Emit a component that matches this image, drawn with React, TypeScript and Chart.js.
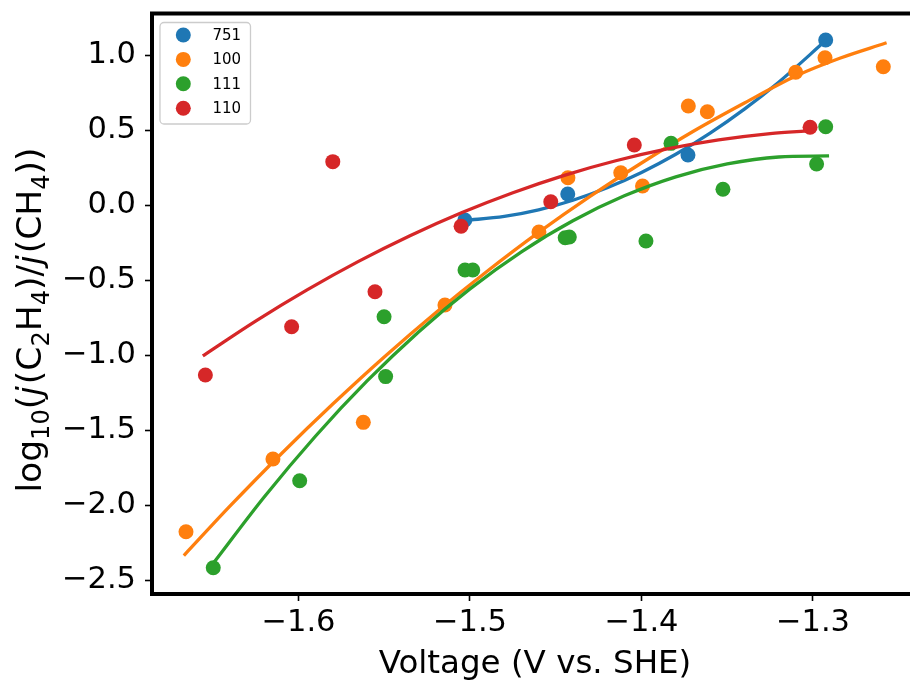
import React, { useEffect, useRef } from 'react';
import { Chart, registerables } from 'chart.js';

Chart.register(...registerables);

// ---- Data ----
const SERIES_LABELS = ['751', '100', '111', '110'];
const SERIES_COLORS = ['#1f77b4', '#ff7f0e', '#2ca02c', '#d62728'];

const X_751 = [-1.503, -1.443, -1.3729, -1.2926];
const Y_751 = [-0.1, 0.073, 0.333, 1.1];

const X_100 = [-1.6656, -1.6149, -1.5622, -1.5146, -1.4598, -1.4429, -1.4121, -1.3994, -1.3727, -1.3616, -1.3101, -1.293, -1.259];
const Y_100 = [-2.178, -1.693, -1.449, -0.667, -0.18, 0.182, 0.215, 0.127, 0.66, 0.622, 0.885, 0.982, 0.922];

const X_111 = [-1.6497, -1.5993, -1.5501, -1.5492, -1.5029, -1.4984, -1.4445, -1.4421, -1.3974, -1.3828, -1.3525, -1.2979, -1.2926];
const Y_111 = [-2.418, -1.838, -0.745, -1.144, -0.433, -0.433, -0.218, -0.213, -0.24, 0.411, 0.105, 0.273, 0.522];

const X_110 = [-1.6543, -1.604, -1.58, -1.5554, -1.5052, -1.4529, -1.4042, -1.3017];
const Y_110 = [-1.133, -0.812, 0.289, -0.578, -0.142, 0.022, 0.4, 0.518];

// fitted curves
const FIT_751_X = [-1.503, -1.48, -1.46, -1.44, -1.42, -1.4, -1.38, -1.36, -1.34, -1.32, -1.2926];
const FIT_751_Y = [-0.103, -0.076, -0.032, 0.032, 0.115, 0.217, 0.338, 0.479, 0.639, 0.819, 1.096];

const FIT_100_X = [-1.6662, -1.64, -1.61, -1.58, -1.55, -1.52, -1.49, -1.46, -1.43, -1.4, -1.37, -1.34, -1.31, -1.284, -1.258];
const FIT_100_Y = [-2.329, -2.008, -1.658, -1.327, -1.013, -0.718, -0.442, -0.183, 0.057, 0.28, 0.49, 0.68, 0.86, 0.98, 1.078];

const FIT_111_X = [-1.6497, -1.62, -1.59, -1.56, -1.53, -1.5, -1.47, -1.44, -1.41, -1.38, -1.35, -1.32, -1.2916];
const FIT_111_Y = [-2.389, -1.947, -1.54, -1.173, -0.846, -0.559, -0.312, -0.105, 0.061, 0.188, 0.274, 0.32, 0.327];

const FIT_110_X = [-1.655, -1.625, -1.595, -1.565, -1.535, -1.505, -1.475, -1.445, -1.415, -1.385, -1.355, -1.325, -1.3017];
const FIT_110_Y = [-1.0, -0.774, -0.566, -0.376, -0.205, -0.052, 0.082, 0.198, 0.295, 0.374, 0.434, 0.476, 0.496];

const X_TICKS = [-1.6, -1.5, -1.4, -1.3];
const Y_TICKS = [-2.5, -2.0, -1.5, -1.0, -0.5, 0.0, 0.5, 1.0];

const X_MIN = -1.68542;
const X_MAX = -1.24344;
const Y_MIN = -2.5933;
const Y_MAX = 1.2767;

const X_TITLE = 'Voltage (V vs. SHE)';

const zip = (xs: number[], ys: number[]) => xs.map((x, i) => ({ x, y: ys[i] }));
const fmt = (v: number) => v.toFixed(1).replace('-', '\u2212');

const FONT = "'DejaVu Sans', sans-serif";

const decorPlugin = {
  id: 'decor',
  afterDraw(chart: any) {
    const ctx = chart.ctx as CanvasRenderingContext2D;
    const a = chart.chartArea;
    ctx.save();
    // top spine
    ctx.strokeStyle = '#000';
    ctx.lineWidth = 4;
    ctx.beginPath();
    ctx.moveTo(a.left - 2, a.top);
    ctx.lineTo(a.right, a.top);
    ctx.stroke();

    // legend
    const bx = 160, by = 22.5, bw = 90.5, bh = 101.5, r = 4;
    ctx.beginPath();
    ctx.moveTo(bx + r, by);
    ctx.arcTo(bx + bw, by, bx + bw, by + bh, r);
    ctx.arcTo(bx + bw, by + bh, bx, by + bh, r);
    ctx.arcTo(bx, by + bh, bx, by, r);
    ctx.arcTo(bx, by, bx + bw, by, r);
    ctx.closePath();
    ctx.fillStyle = 'rgba(255,255,255,0.8)';
    ctx.fill();
    ctx.strokeStyle = '#cccccc';
    ctx.lineWidth = 1.3;
    ctx.stroke();
    ctx.font = `15px ${FONT}`;
    ctx.textBaseline = 'middle';
    ctx.textAlign = 'left';
    SERIES_LABELS.forEach((lab, i) => {
      const yy = 35 + i * 24.4;
      ctx.beginPath();
      ctx.arc(183.3, yy, 7.5, 0, Math.PI * 2);
      ctx.fillStyle = SERIES_COLORS[i];
      ctx.fill();
      ctx.fillStyle = '#000';
      ctx.fillText(lab, 212.5, yy + 1);
    });

    // x title
    ctx.font = `32.5px ${FONT}`;
    ctx.textAlign = 'center';
    ctx.textBaseline = 'alphabetic';
    ctx.fillStyle = '#000';
    ctx.fillText(X_TITLE, 535, 673);

    // y title (rotated, with subscripts and italic j)
    const size = 34.5;
    const sub = size * 0.7;
    const parts: { t: string; kind: 'n' | 's' | 'i' }[] = [
      { t: 'log', kind: 'n' }, { t: '10', kind: 's' }, { t: '(', kind: 'n' },
      { t: 'j', kind: 'i' }, { t: '(C', kind: 'n' }, { t: '2', kind: 's' },
      { t: 'H', kind: 'n' }, { t: '4', kind: 's' }, { t: ')/', kind: 'n' },
      { t: 'j', kind: 'i' }, { t: '(CH', kind: 'n' }, { t: '4', kind: 's' },
      { t: '))', kind: 'n' },
    ];
    const fontOf = (k: string) =>
      k === 's' ? `${sub}px ${FONT}` : k === 'i' ? `italic ${size}px ${FONT}` : `${size}px ${FONT}`;
    let total = 0;
    const widths = parts.map((p) => {
      ctx.font = fontOf(p.kind);
      const w = ctx.measureText(p.t).width + (p.kind === 'i' ? 2 : 0);
      total += w;
      return w;
    });
    ctx.translate(41, 320);
    ctx.rotate(-Math.PI / 2);
    ctx.textAlign = 'left';
    let cx = -total / 2;
    parts.forEach((p, i) => {
      ctx.font = fontOf(p.kind);
      ctx.fillText(p.t, cx, p.kind === 's' ? size * 0.22 : 0);
      cx += widths[i];
    });
    ctx.restore();
  },
};

export default function App() {
  const ref = useRef<HTMLCanvasElement | null>(null);

  useEffect(() => {
    document.body.style.margin = '0';
    const canvas = ref.current;
    if (!canvas) return;

    const scatterSets = [
      zip(X_751, Y_751), zip(X_100, Y_100), zip(X_111, Y_111), zip(X_110, Y_110),
    ];
    const fitSets = [
      zip(FIT_751_X, FIT_751_Y), zip(FIT_100_X, FIT_100_Y), zip(FIT_111_X, FIT_111_Y), zip(FIT_110_X, FIT_110_Y),
    ];
    const datasets: any[] = [];
    SERIES_LABELS.forEach((lab, i) => {
      datasets.push({
        label: lab,
        data: scatterSets[i],
        showLine: false,
        pointRadius: 7.5,
        pointHoverRadius: 7.5,
        pointBackgroundColor: SERIES_COLORS[i],
        pointBorderWidth: 0,
        borderColor: SERIES_COLORS[i],
        backgroundColor: SERIES_COLORS[i],
      });
      datasets.push({
        label: lab + ' fit',
        data: fitSets[i],
        showLine: true,
        pointRadius: 0,
        borderColor: SERIES_COLORS[i],
        borderWidth: 3.3,
        borderCapStyle: 'square',
        cubicInterpolationMode: 'monotone',
        fill: false,
      });
    });
    datasets.forEach((d, i) => (d.order = datasets.length - i));

    const tickFont = { family: FONT, size: 30.5 };
    const chart = new Chart(canvas, {
      type: 'scatter',
      data: { datasets },
      plugins: [decorPlugin],
      options: {
        responsive: false,
        animation: false,
        devicePixelRatio: 1,
        layout: { autoPadding: false, padding: { top: 13.5, right: 0, left: 0, bottom: 0 } },
        plugins: {
          legend: { display: false },
          tooltip: { enabled: false },
          title: { display: false },
        },
        scales: {
          x: {
            type: 'linear',
            position: 'bottom',
            min: X_MIN,
            max: X_MAX,
            afterBuildTicks: (s: any) => {
              s.ticks = X_TICKS.map((v) => ({ value: v }));
            },
            afterFit: (s: any) => {
              s.height = 87;
              s.paddingLeft = 0;
              s.paddingRight = 0;
            },
            ticks: {
              callback: (v: any) => fmt(Number(v)),
              font: tickFont,
              color: '#000',
              padding: 4,
              maxRotation: 0,
              autoSkip: false,
            },
            grid: {
              display: true,
              drawOnChartArea: false,
              drawTicks: true,
              tickLength: 7,
              tickWidth: 1.6,
              color: '#000',
            },
            border: { display: true, width: 4, color: '#000' },
          },
          y: {
            type: 'linear',
            position: 'left',
            min: Y_MIN,
            max: Y_MAX,
            afterBuildTicks: (s: any) => {
              s.ticks = Y_TICKS.map((v) => ({ value: v }));
            },
            afterFit: (s: any) => {
              s.width = 152;
              s.paddingTop = 0;
              s.paddingBottom = 0;
            },
            ticks: {
              callback: (v: any) => fmt(Number(v)),
              font: tickFont,
              color: '#000',
              padding: 9,
              autoSkip: false,
            },
            grid: {
              display: true,
              drawOnChartArea: false,
              drawTicks: true,
              tickLength: 7,
              tickWidth: 1.6,
              color: '#000',
            },
            border: { display: true, width: 4, color: '#000' },
          },
        },
      } as any,
    });
    return () => chart.destroy();
  }, []);

  return (
    <div style={{ width: 910, height: 681, background: '#fff' }}>
      <canvas ref={ref} width={910} height={681} style={{ display: 'block', width: 910, height: 681 }} />
    </div>
  );
}
